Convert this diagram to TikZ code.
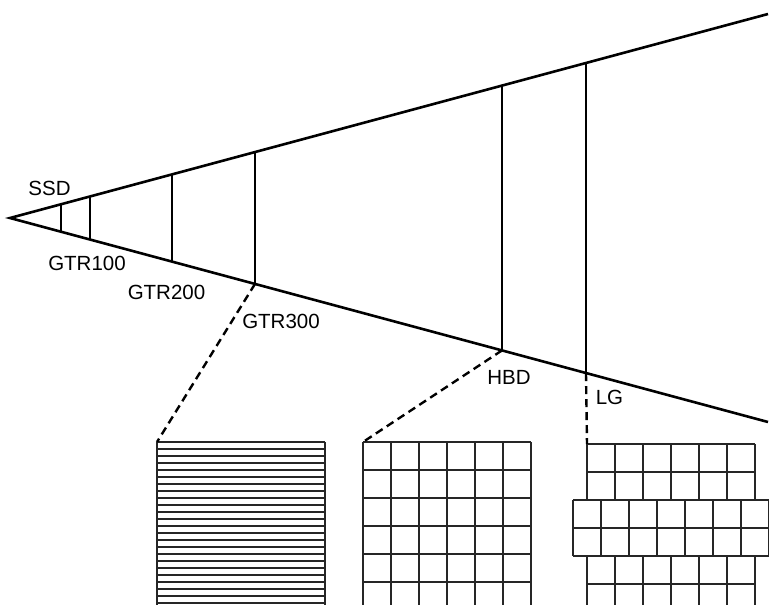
\documentclass[tikz,border=0pt]{standalone}
\usepackage{fontspec}
\setmainfont{Liberation Sans}
\usetikzlibrary{calc}

\begin{document}
\begin{tikzpicture}[
    x=1pt, y=-1pt,
    font=\fontsize{20.5}{24}\selectfont,
    edge_line/.style={line width=2.6pt},
    mark_line/.style={line width=2.6pt},
    link_line/.style={line width=2.4pt, dash pattern=on 8pt off 5pt},
    grid_line/.style={line width=1.3pt, draw=black!85},
    tag/.style={inner sep=0pt}
  ]

  % Frame
  \clip (0,0) rectangle (769,605);

  % Cone
  \coordinate (apex) at (10,218);
  \coordinate (topend) at (768,14);
  \coordinate (botend) at (768,422);
  \draw[edge_line] (topend) -- (apex) -- (botend);

  % Range marks
  \foreach \name/\xx in {ssd/61, gtra/90, gtrb/172, gtrc/255, hbd/502, lg/586} {
    \pgfmathsetmacro{\pos}{(\xx-10)/758}
    \coordinate (\name-up) at ($(apex)!\pos!(topend)$);
    \coordinate (\name-lo) at ($(apex)!\pos!(botend)$);
    \draw[mark_line] (\name-up) -- (\name-lo);
  }

  % Labels
  \node[tag] (ssd-tag) at (49.5,188) {SSD};
  \node[tag] (gtra-tag) at (87,263) {GTR100};
  \node[tag] (gtrb-tag) at (166.5,292) {GTR200};
  \node[tag] (gtrc-tag) at (281,321) {GTR300};
  \node[tag] (hbd-tag) at (509,377) {HBD};
  \node[tag] (lg-tag) at (609.5,397) {LG};

  % Line pattern
  \coordinate (lines-nw) at (157,442);
  \foreach \k in {0,...,23}
    \draw[grid_line] (157,{442+7*\k}) -- (325,{442+7*\k});
  \draw[grid_line] (157,442) -- (157,605);
  \draw[grid_line] (325,442) -- (325,605);

  % Square cells
  \coordinate (cells-nw) at (363,442);
  \foreach \k in {0,...,5}
    \draw[grid_line] (363,{442+28*\k}) -- (531,{442+28*\k});
  \foreach \k in {0,...,6}
    \draw[grid_line] ({363+28*\k},442) -- ({363+28*\k},605);

  % Brick cells
  \coordinate (brick-nw) at (587,444);
  \foreach \yy in {444,472,584}
    \draw[grid_line] (587,\yy) -- (755,\yy);
  \foreach \yy in {500,528,556}
    \draw[grid_line] (573,\yy) -- (768.5,\yy);
  \foreach \k in {0,...,6} {
    \draw[grid_line] ({587+28*\k},444) -- ({587+28*\k},500);
    \draw[grid_line] ({587+28*\k},556) -- ({587+28*\k},605);
  }
  \foreach \k in {0,...,7}
    \draw[grid_line] ({573+28*\k},500) -- ({573+28*\k},556);

  % Links
  \draw[link_line] (gtrc-lo) -- (lines-nw);
  \draw[link_line] (hbd-lo) -- (cells-nw);
  \draw[link_line] (lg-lo) -- (brick-nw);

\end{tikzpicture}
\end{document}
